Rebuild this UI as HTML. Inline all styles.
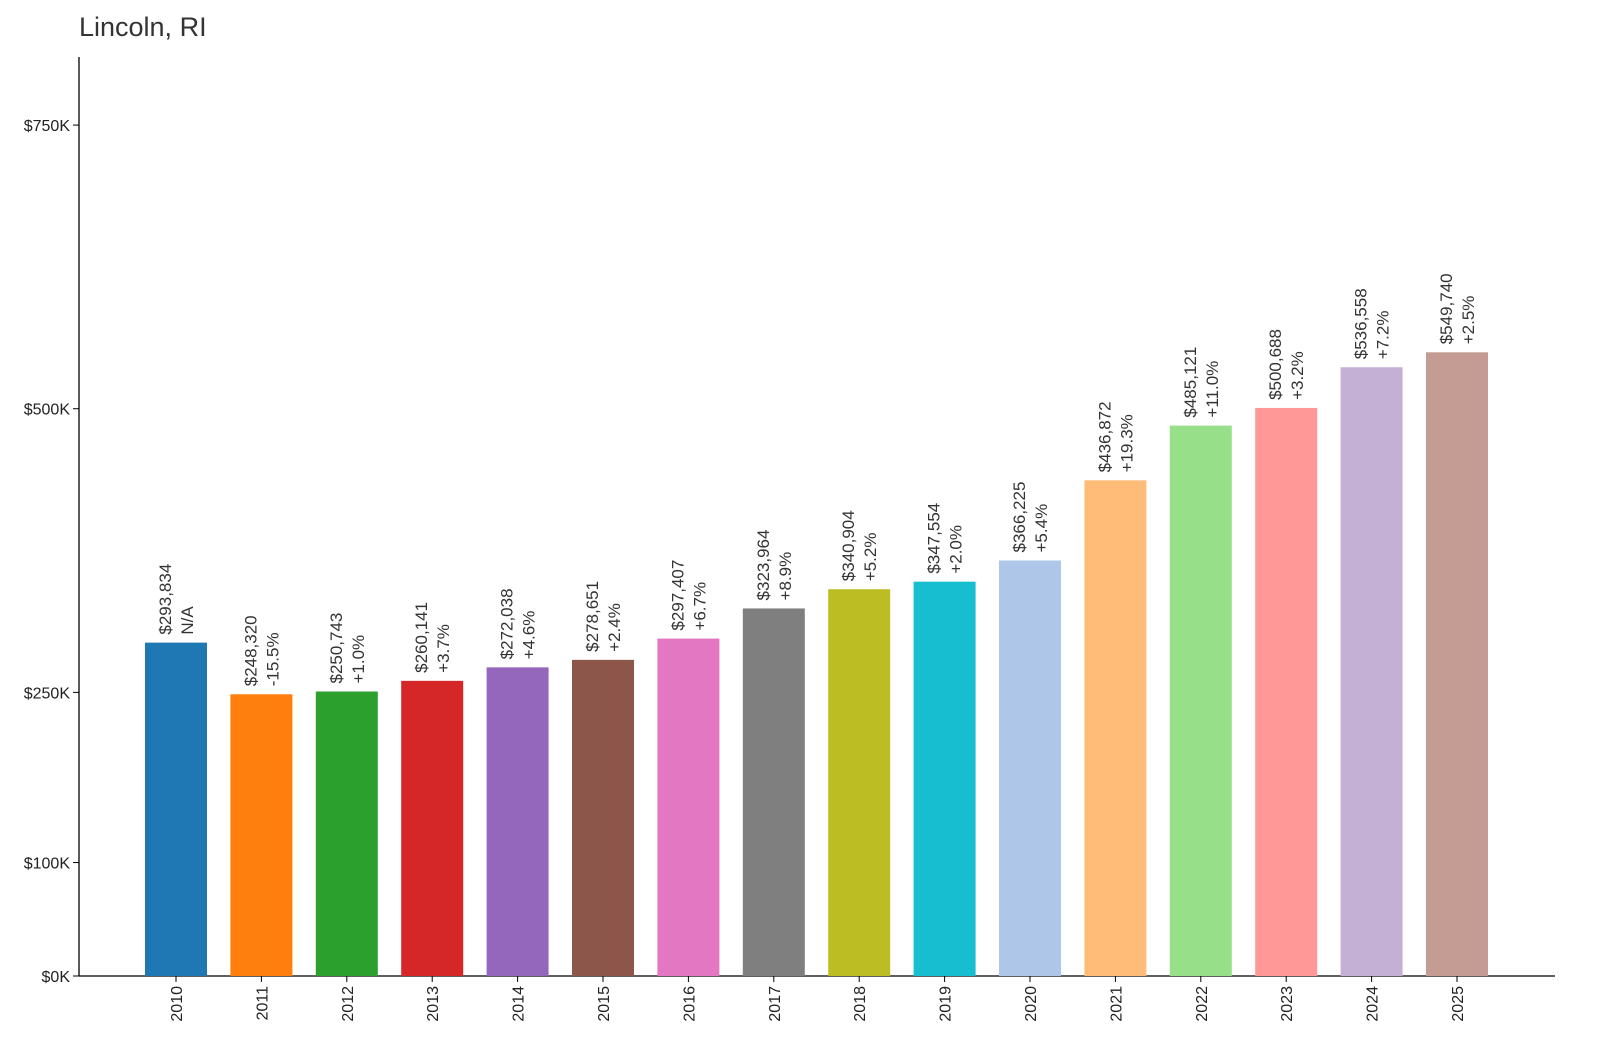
<!DOCTYPE html>
<html><head><meta charset="utf-8"><style>
body{margin:0;background:#fff;}
svg{display:block;font-family:"Liberation Sans","DejaVu Sans",sans-serif;}
</style></head><body>
<svg id="chart" width="1600" height="1063">
<text x="79" y="36" font-size="27" fill="#333">Lincoln, RI</text>
<g id="axes"></g><g id="bars"></g>
</svg>
<script>
const years=["2010","2011","2012","2013","2014","2015","2016","2017","2018","2019","2020","2021","2022","2023","2024","2025"];
const values=[293834,248320,250743,260141,272038,278651,297407,323964,340904,347554,366225,436872,485121,500688,536558,549740];
const changes=["N/A","-15.5%","+1.0%","+3.7%","+4.6%","+2.4%","+6.7%","+8.9%","+5.2%","+2.0%","+5.4%","+19.3%","+11.0%","+3.2%","+7.2%","+2.5%"];
const tickValues=[0,100000,250000,500000,750000];
const tickLabels=["$0K","$100K","$250K","$500K","$750K"];
const colors=["#1f77b4","#ff7f0e","#2ca02c","#d62728","#9467bd","#8c564b","#e377c2","#7f7f7f","#bcbd22","#17becf","#aec7e8","#ffbb78","#98df8a","#ff9896","#c5b0d5","#c49c94"];
const NS="http://www.w3.org/2000/svg";
const y0=976,yTop=57,yMax=810000;
const y=v=>y0-(v/yMax)*(y0-yTop);
const x=i=>176+i*85.4;
const bw=62;
function mk(t,a,p){const e=document.createElementNS(NS,t);for(const k in a)e.setAttribute(k,a[k]);p.appendChild(e);return e;}
const ax=document.getElementById('axes'),bg=document.getElementById('bars');
const yl=mk('line',{x1:79,y1:yTop,x2:79,y2:y0,stroke:'#000','stroke-width':1.3},ax);


const xl=mk('line',{x1:79,y1:y0,x2:1555,y2:y0,stroke:'#000','stroke-width':1.3},ax);


tickValues.forEach((v,i)=>{
  mk('line',{x1:73,y1:y(v),x2:79,y2:y(v),stroke:'#000'},ax);
  const t=mk('text',{x:70,y:y(v)+6,'text-anchor':'end','font-size':16,fill:'#222'},ax);
  t.textContent=tickLabels[i];
  
  
});
years.forEach((yr,i)=>{
  const cx=x(i),top=y(values[i]);
  const r=mk('rect',{x:cx-bw/2,y:top,width:bw,height:y0-top,fill:colors[i]},bg);
  
  
  mk('line',{x1:cx,y1:y0,x2:cx,y2:y0+6,stroke:'#000'},ax);
  const yt=mk('text',{transform:`translate(${cx+6},986) rotate(-90)`,'text-anchor':'end','font-size':16,fill:'#222'},ax);
  yt.textContent=yr;
  
  
  const lb=mk('text',{transform:`translate(${cx},${top-8}) rotate(-90)`,'font-size':17,fill:'#333'},bg);
  
  
  const t1=mk('tspan',{x:0,y:-5},lb);t1.textContent='$'+values[i].toLocaleString('en-US');
  const t2=mk('tspan',{x:0,y:17},lb);t2.textContent=changes[i];
});
</script>
</body></html>
